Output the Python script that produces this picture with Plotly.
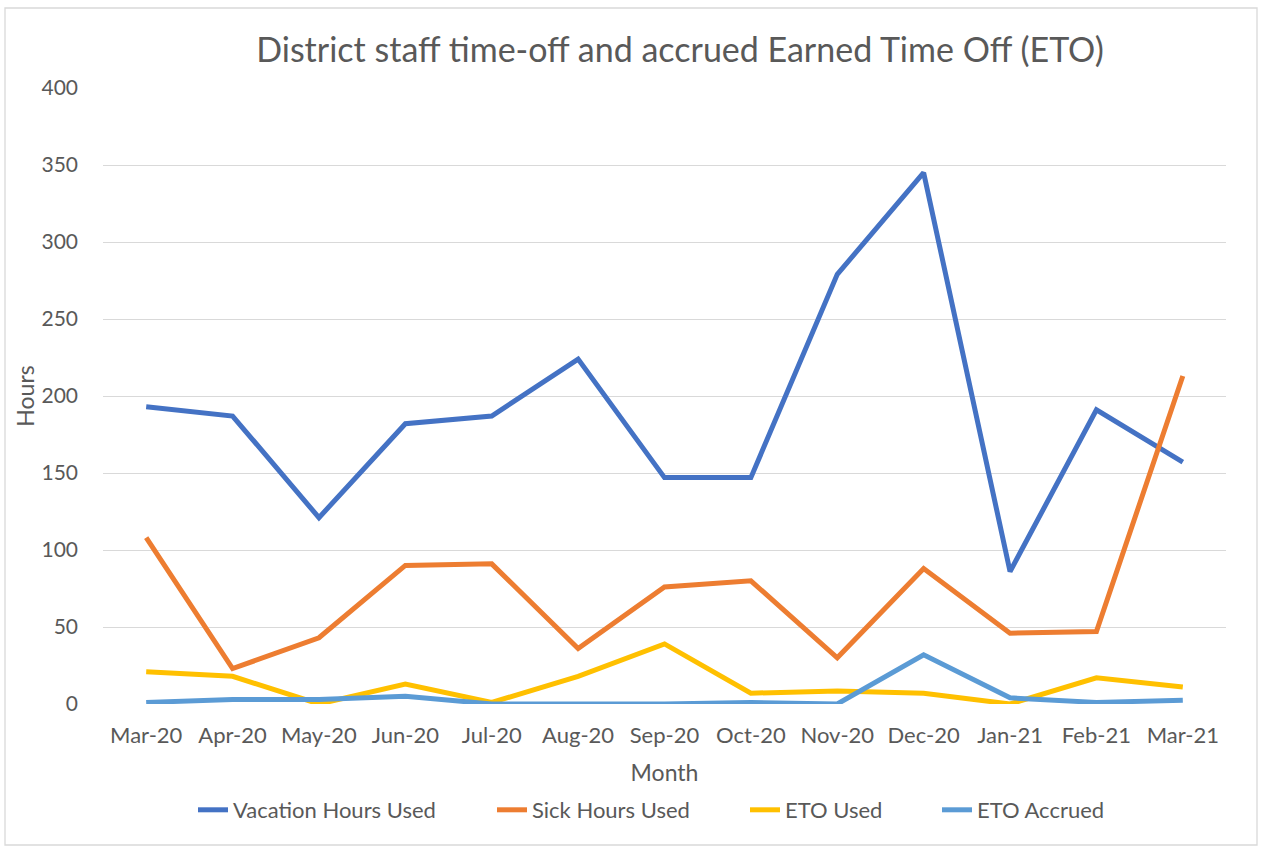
import plotly.graph_objects as go

months = ["Mar-20", "Apr-20", "May-20", "Jun-20", "Jul-20", "Aug-20", "Sep-20",
          "Oct-20", "Nov-20", "Dec-20", "Jan-21", "Feb-21", "Mar-21"]
vacation = [193, 187, 121, 182, 187, 224, 147, 147, 279, 345, 86, 191, 157]
sick = [108, 23, 43, 90, 91, 36, 76, 80, 30, 88, 46, 47, 213]
eto_used = [21, 18, 0, 13, 1, 18, 39, 7, 8.5, 7, 0, 17, 11]
eto_accrued = [1, 3, 3, 5, 0, 0, 0, 1, 0, 32, 4, 1, 2.5]

series = [
    ("Vacation Hours Used", vacation, "#4472C4"),
    ("Sick Hours Used", sick, "#ED7D31"),
    ("ETO Used", eto_used, "#FFC000"),
    ("ETO Accrued", eto_accrued, "#5B9BD5"),
]

FONT = "Lato, Calibri, Carlito, sans-serif"
GREY = "#595959"

L, R, T, B = 103, 36, 88, 144
W, H = 1262, 848
pw, ph = W - L - R, H - T - B

legend_names = ["legend", "legend2", "legend3", "legend4"]
legend_text_px = [233, 532, 785, 977]

fig = go.Figure()
for (name, vals, col), lg in zip(series, legend_names):
    fig.add_trace(go.Scatter(x=months, y=vals, name=name, mode="lines", legend=lg,
                             line=dict(color=col, width=5)))

legends = {}
for lg, tx in zip(legend_names, legend_text_px):
    legends[lg] = dict(orientation="h", x=(tx - 40 - L) / pw, xanchor="left",
                       y=-(810 - 704) / ph, yanchor="middle",
                       font=dict(size=22, color=GREY, family=FONT),
                       bgcolor="rgba(0,0,0,0)")

fig.update_layout(
    width=W, height=H,
    margin=dict(l=L, r=R, t=T, b=B),
    paper_bgcolor="white", plot_bgcolor="white",
    font=dict(family=FONT, color=GREY, size=22),
    title=dict(text="District staff time-off and accrued Earned Time Off (ETO)",
               x=680 / W, xanchor="center", y=1 - 50 / H, yanchor="middle",
               font=dict(size=34, color=GREY, family=FONT)),
    xaxis=dict(type="category", range=[-0.5, 12.5], showgrid=False, zeroline=False,
               ticks="", showline=False, tickfont=dict(size=22, color=GREY),
               ticklabelstandoff=16,
               title=dict(text="Month", font=dict(size=23, color=GREY), standoff=17)),
    yaxis=dict(range=[0, 400], dtick=50, showgrid=True, gridcolor="#D9D9D9", gridwidth=1.3,
               zeroline=False, showline=False, ticks="", tickfont=dict(size=21, color=GREY),
               ticklabelstandoff=24,
               title=dict(text="Hours", font=dict(size=23, color=GREY), standoff=0)),
    showlegend=True,
    **legends,
)

# chart-area border
fig.add_shape(type="rect", xref="paper", yref="paper",
              x0=(5 - L) / pw, x1=(1257 - L) / pw,
              y0=(H - B - 845) / ph, y1=(H - B - 8) / ph,
              line=dict(color="#D9D9D9", width=1.3), fillcolor="rgba(0,0,0,0)", layer="below")

fig.write_html("out.html", config={"displayModeBar": False},
               post_script="document.body.style.margin='0';document.body.style.padding='0';")
